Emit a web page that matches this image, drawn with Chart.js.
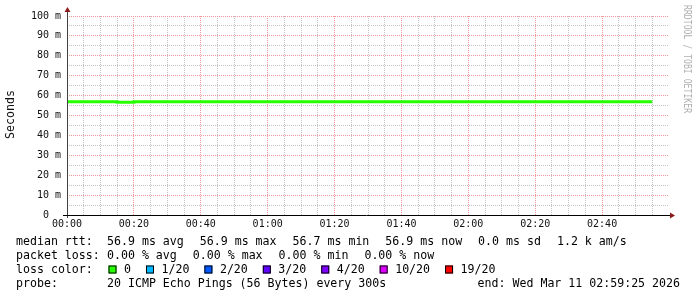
<!DOCTYPE html>
<html lang="en">
<head>
  <meta charset="UTF-8">
  <title>Smokeping latency</title>
  <script src="https://cdn.jsdelivr.net/npm/chart.js@4"></script>
  <style>
    body { margin: 0; background: #fff; }
    canvas { display: block; }
  </style>
</head>
<body>
  <canvas id="graph" width="697" height="297"></canvas>

  <script>
    // minutes since 00:00, one sample per 5 min step
    const minutes = [0, 5, 10, 15, 20, 25, 30, 35, 40, 45, 50, 55, 60, 65, 70, 75, 80, 85,
      90, 95, 100, 105, 110, 115, 120, 125, 130, 135, 140, 145, 150, 155, 160, 165, 170, 175];
    // median rtt in ms
    const medianRtt = [56.9, 56.9, 56.9, 56.7, 56.9, 56.9, 56.9, 56.9, 56.9, 56.9, 56.9, 56.9,
      56.9, 56.9, 56.9, 56.9, 56.9, 56.9, 56.9, 56.9, 56.9, 56.9, 56.9, 56.9, 56.9, 56.9, 56.9,
      56.9, 56.9, 56.9, 56.9, 56.9, 56.9, 56.9, 56.9, 56.9];

    const rttItems = ['56.9 ms avg', '56.9 ms max', '56.7 ms min', '56.9 ms now', '0.0 ms sd', '1.2 k am/s'];
    const lossItems = ['0.00 % avg', '0.00 % max', '0.00 % min', '0.00 % now'];
    const lossLabels = ['0', '1/20', '2/20', '3/20', '4/20', '10/20', '19/20'];
    const lossColors = ['#26ff00', '#00b8ff', '#0059ff', '#5e00ff', '#7e00ff', '#dd00ff', '#ff0000'];
    const probeText = '20 ICMP Echo Pings (56 Bytes) every 300s';
    const endText = 'end: Wed Mar 11 02:59:25 2026';

    const MONO = '"DejaVu Sans Mono", monospace';
    const majorGrid = '#ee9999';
    const minorGrid = '#c4c4c4';

    const pad2 = n => (n < 10 ? '0' : '') + n;

    const decor = {
      id: 'decor',
      afterDraw(chart) {
        const ctx = chart.ctx;
        const a = chart.chartArea;
        ctx.save();

        // axes
        ctx.lineWidth = 1;
        ctx.strokeStyle = '#404040';
        ctx.beginPath();
        ctx.moveTo(a.left + 0.5, a.bottom + 3);
        ctx.lineTo(a.left + 0.5, a.top - 6);
        ctx.stroke();
        ctx.strokeStyle = '#000';
        ctx.beginPath();
        ctx.moveTo(a.left - 4, a.bottom + 0.5);
        ctx.lineTo(a.right + 1, a.bottom + 0.5);
        ctx.stroke();

        // arrow heads
        ctx.fillStyle = '#8b1a1a';
        ctx.beginPath();
        ctx.moveTo(a.left - 2.5, a.top - 4);
        ctx.lineTo(a.left + 3.5, a.top - 4);
        ctx.lineTo(a.left + 0.5, a.top - 9);
        ctx.closePath();
        ctx.fill();
        ctx.beginPath();
        ctx.moveTo(a.right + 1, a.bottom - 2.5);
        ctx.lineTo(a.right + 1, a.bottom + 3.5);
        ctx.lineTo(a.right + 6, a.bottom + 0.5);
        ctx.closePath();
        ctx.fill();

        // y title
        ctx.fillStyle = '#111';
        ctx.font = '11.6px ' + MONO;
        ctx.textAlign = 'center';
        ctx.textBaseline = 'middle';
        ctx.save();
        ctx.translate(11, (a.top + a.bottom) / 2 - 1);
        ctx.rotate(-Math.PI / 2);
        ctx.fillText('Seconds', 0, 0);
        ctx.restore();

        // watermark
        ctx.save();
        ctx.fillStyle = '#b0b0b0';
        ctx.font = '8px ' + MONO;
        ctx.textAlign = 'left';
        ctx.textBaseline = 'alphabetic';
        ctx.translate(684, 5);
        ctx.rotate(Math.PI / 2);
        ctx.scale(1.02, 1.3);
        ctx.fillText('RRDTOOL / TOBI OETIKER', 0, 0);
        ctx.restore();

        // legend block
        ctx.fillStyle = '#000';
        ctx.font = '11.6px ' + MONO;
        ctx.textAlign = 'left';
        ctx.textBaseline = 'middle';
        const row = (label, items, y) => {
          ctx.fillText(label, 16, y);
          let x = 107;
          items.forEach(t => {
            ctx.fillText(t, x, y);
            x += ctx.measureText(t).width + 16;
          });
        };
        row('median rtt:', rttItems, 241.5);
        row('packet loss:', lossItems, 255.5);
        ctx.fillText('loss color:', 16, 269.5);
        let x = 108.5;
        lossLabels.forEach((lbl, i) => {
          ctx.fillStyle = lossColors[i];
          ctx.fillRect(x, 265.5, 8, 8);
          ctx.strokeStyle = '#000';
          ctx.strokeRect(x + 0.5, 265.5 + 0.5, 7, 7);
          ctx.fillStyle = '#000';
          const tx = x + 15.5;
          ctx.fillText(lbl, tx, 269.5);
          x = tx + ctx.measureText(lbl).width + 15;
        });
        row('probe:', [probeText], 283.5);
        ctx.textAlign = 'right';
        ctx.fillText(endText, 680, 283.5);

        ctx.restore();
      }
    };

    new Chart(document.getElementById('graph'), {
      type: 'line',
      data: {
        labels: minutes,
        datasets: [{
          label: 'median rtt',
          data: minutes.map((m, i) => ({ x: m, y: medianRtt[i] })),
          borderColor: '#26ff00',
          borderWidth: 3,
          pointRadius: 0,
          stepped: 'before',
          fill: false
        }]
      },
      options: {
        responsive: false,
        animation: false,
        layout: { padding: { top: 16, right: 28, left: 0, bottom: 0 } },
        plugins: { legend: { display: false }, tooltip: { enabled: false } },
        scales: {
          x: {
            type: 'linear',
            min: 0,
            max: 180,
            afterFit: s => { s.height = 82; },
            border: { display: false, dash: [1, 1] },
            grid: {
              drawTicks: false,
              // ticks every 5 min: index*5 minutes
              color: c => {
                const i = c.index;
                if (i >= 36) return 'rgba(0,0,0,0)';
                return i % 4 === 0 ? majorGrid : minorGrid;
              }
            },
            ticks: {
              stepSize: 5,
              autoSkip: false,
              maxRotation: 0,
              padding: 3,
              color: '#111',
              font: { family: MONO, size: 10 },
              callback: v => (v % 20 === 0 && v < 180) ? pad2(Math.floor(v / 60)) + ':' + pad2(v % 60) : ''
            }
          },
          y: {
            min: 0,
            max: 100,
            afterFit: s => { s.width = 67; },
            border: { display: false, dash: [1, 1] },
            grid: {
              drawTicks: false,
              color: c => c.index % 2 === 0 ? majorGrid : minorGrid
            },
            ticks: {
              stepSize: 5,
              autoSkip: false,
              padding: 6,
              color: '#111',
              font: { family: MONO, size: 10 },
              callback: v => v % 10 !== 0 ? '' : (v === 0 ? '0  ' : v + ' m')
            }
          }
        }
      },
      plugins: [decor]
    });
  </script>
</body>
</html>
